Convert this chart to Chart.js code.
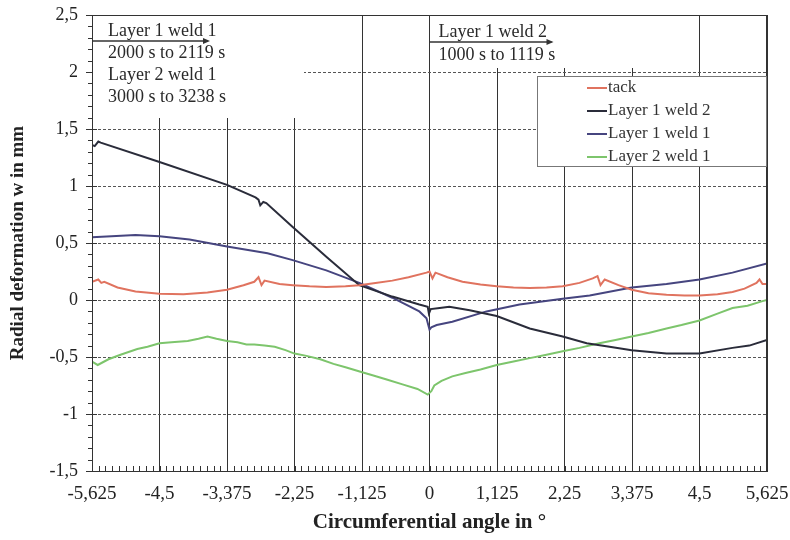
<!DOCTYPE html>
<html><head><meta charset="utf-8">
<script src="https://cdn.jsdelivr.net/npm/chart.js@4.4.1/dist/chart.umd.min.js"></script>
<style>html,body{margin:0;padding:0;background:#fff}#wrap{width:790px;height:540px}</style>
</head><body><div id="wrap"><canvas id="c" width="790" height="540"></canvas></div>
<script>
// ---- data ----
const seriesNames = ['tack', 'Layer 1 weld 2', 'Layer 1 weld 1', 'Layer 2 weld 1'];

const tackX = [-5.625,-5.52,-5.47,-5.42,-5.2,-4.9,-4.5,-4.1,-3.7,-3.375,-3.1,-2.92,-2.85,-2.80,-2.75,-2.5,-2.28,-2.0,-1.72,-1.4,-1.17,-0.9,-0.62,-0.35,-0.05,0,0.05,0.1,0.3,0.55,0.85,1.12,1.4,1.67,1.95,2.22,2.5,2.72,2.8,2.85,2.92,3.15,3.37,3.65,3.95,4.25,4.5,4.8,5.05,5.25,5.45,5.5,5.55,5.625];
const tackY = [0.16,0.18,0.15,0.16,0.11,0.075,0.055,0.05,0.065,0.09,0.13,0.16,0.20,0.13,0.17,0.14,0.13,0.12,0.115,0.12,0.13,0.15,0.17,0.20,0.24,0.25,0.19,0.24,0.20,0.16,0.135,0.12,0.11,0.105,0.11,0.12,0.15,0.19,0.21,0.13,0.18,0.13,0.09,0.06,0.045,0.04,0.04,0.05,0.07,0.10,0.15,0.18,0.14,0.14];

const l1w2X = [-5.625,-5.58,-5.52,-5.48,-4.5,-3.375,-2.9,-2.85,-2.82,-2.77,-2.72,-2.28,-1.72,-1.17,-0.62,-0.17,-0.03,-0.01,0.02,0.17,0.33,0.67,1.12,1.67,2.22,2.62,3.0,3.37,3.95,4.5,5.05,5.33,5.625];
const l1w2Y = [1.36,1.35,1.39,1.38,1.21,1.01,0.90,0.88,0.83,0.86,0.85,0.64,0.38,0.13,0.03,-0.04,-0.06,-0.12,-0.08,-0.07,-0.06,-0.09,-0.14,-0.25,-0.32,-0.38,-0.41,-0.44,-0.47,-0.47,-0.42,-0.40,-0.35];

const l1w1X = [-5.625,-5.3,-4.9,-4.5,-4.0,-3.375,-2.7,-2.28,-1.72,-1.17,-0.62,-0.17,-0.05,0,0.03,0.12,0.38,0.95,1.5,2.22,2.67,3.37,3.95,4.5,5.05,5.625];
const l1w1Y = [0.55,0.56,0.57,0.56,0.53,0.47,0.41,0.35,0.26,0.15,0.02,-0.10,-0.16,-0.26,-0.24,-0.22,-0.19,-0.10,-0.04,0.01,0.04,0.11,0.14,0.18,0.24,0.32];

const l2w1X = [-5.625,-5.53,-5.35,-5.15,-4.87,-4.7,-4.5,-4.3,-4.03,-3.85,-3.7,-3.55,-3.375,-3.2,-3.05,-2.92,-2.75,-2.58,-2.4,-2.25,-2.05,-1.82,-1.6,-1.4,-1.15,-0.95,-0.7,-0.45,-0.2,-0.03,0.03,0.08,0.2,0.38,0.6,0.85,1.12,1.4,1.67,1.95,2.22,2.5,2.83,3.1,3.37,3.65,3.95,4.2,4.5,4.8,5.05,5.3,5.55,5.625];
const l2w1Y = [-0.54,-0.57,-0.52,-0.48,-0.43,-0.41,-0.38,-0.37,-0.36,-0.34,-0.32,-0.34,-0.36,-0.37,-0.39,-0.39,-0.40,-0.41,-0.44,-0.47,-0.49,-0.52,-0.56,-0.59,-0.63,-0.66,-0.70,-0.74,-0.78,-0.83,-0.80,-0.75,-0.71,-0.67,-0.64,-0.61,-0.57,-0.54,-0.51,-0.48,-0.45,-0.42,-0.38,-0.35,-0.32,-0.29,-0.25,-0.22,-0.18,-0.12,-0.07,-0.05,-0.01,0.0];

const xTickMin = -5.625, xTickMax = 5.625, xTickStep = 1.125;
const yTickMin = -1.5, yTickMax = 2.5, yTickStep = 0.5;

const annotLeft = ['Layer 1 weld 1', '2000 s to 2119 s', 'Layer 2 weld 1', '3000 s to 3238 s'];
const annotRight = ['Layer 1 weld 2', '1000 s to 1119 s'];
const xTitle = 'Circumferential angle in °';
const yTitle = 'Radial deformation w in mm';

// ---- build ----
const SERIF = '"Liberation Serif", "Times New Roman", serif';
const colors = ['#e0735f', '#2a2c3a', '#46457f', '#7dc56c'];
const pairs = [[tackX,tackY],[l1w2X,l1w2Y],[l1w1X,l1w1Y],[l2w1X,l2w1Y]];
const datasets = pairs.map((p, i) => ({
  label: seriesNames[i],
  data: p[0].map((x, k) => ({x, y: p[1][k]})),
  showLine: true, borderColor: colors[i], backgroundColor: colors[i],
  borderWidth: 2, pointRadius: 0, tension: 0, fill: false
}));
const fmt = v => (Math.abs(v) < 1e-9 ? '0' : String(v).replace('.', ','));

const decor = {
  id: 'decor',
  afterDatasetsDraw(chart) {
    const {ctx, chartArea: a, scales: {x, y}} = chart;
    ctx.save();
    ctx.strokeStyle = '#333'; ctx.lineWidth = 1;
    // frame top/right/left
    ctx.beginPath();
    ctx.moveTo(a.left, a.top + 0.5); ctx.lineTo(a.right, a.top + 0.5);
    ctx.moveTo(a.right - 0.5, a.top); ctx.lineTo(a.right - 0.5, a.bottom);
    ctx.moveTo(a.left + 0.5, a.top); ctx.lineTo(a.left + 0.5, a.bottom);
    ctx.stroke();
    // minor ticks on y axis
    ctx.beginPath();
    for (let k = 0; k <= 40; k++) {
      const py = Math.round(y.getPixelForValue(yTickMin + k * 0.1)) + 0.5;
      const major = k % 5 === 0;
      ctx.moveTo(a.left - (major ? 6 : 4), py); ctx.lineTo(a.left + (major ? 5 : 0), py);
    }
    // minor ticks on x axis
    for (let k = 0; k <= 100; k++) {
      const px = Math.round(x.getPixelForValue(xTickMin + k * xTickStep / 10)) + 0.5;
      ctx.moveTo(px, a.bottom); ctx.lineTo(px, a.bottom - 5);
    }
    ctx.stroke();
    // white annotation boxes
    ctx.fillStyle = '#fff';
    ctx.fillRect(a.left + 1, a.top + 1, 211, 102);
    ctx.fillRect(x.getPixelForValue(0) + 1, a.top + 1, 230, 52);
    // annotation text
    ctx.fillStyle = '#2a2a2a';
    ctx.font = '18px ' + SERIF;
    ctx.textBaseline = 'middle'; ctx.textAlign = 'left';
    annotLeft.forEach((t, i) => ctx.fillText(t, a.left + 16, a.top + 16 + i * 22));
    annotRight.forEach((t, i) => ctx.fillText(t, x.getPixelForValue(0) + 9, a.top + 17 + i * 23));
    // arrows
    const arrow = (x0, x1, yy) => {
      ctx.beginPath(); ctx.moveTo(x0, yy); ctx.lineTo(x1, yy); ctx.stroke();
      ctx.beginPath(); ctx.moveTo(x1 + 2, yy); ctx.lineTo(x1 - 5, yy - 3); ctx.lineTo(x1 - 5, yy + 3); ctx.closePath(); ctx.fill();
    };
    ctx.strokeStyle = '#333'; ctx.fillStyle = '#333'; ctx.lineWidth = 1.5;
    arrow(a.left, a.left + 116, a.top + 26);
    arrow(x.getPixelForValue(0), x.getPixelForValue(0) + 122, a.top + 27);
    // legend box
    const lx = 537, ly = 76, lw = a.right - 537, lh = 91;
    ctx.fillStyle = '#fff';
    ctx.fillRect(lx, ly, lw, lh);
    ctx.strokeStyle = '#777'; ctx.lineWidth = 1;
    ctx.strokeRect(lx + 0.5, ly + 0.5, lw - 1, lh - 1);
    ctx.font = '17px ' + SERIF;
    chart.data.datasets.forEach((d, i) => {
      const yy = ly + 12 + i * 23;
      ctx.strokeStyle = d.borderColor; ctx.lineWidth = 2;
      ctx.beginPath(); ctx.moveTo(lx + 50, yy); ctx.lineTo(lx + 70, yy); ctx.stroke();
      ctx.fillStyle = '#333';
      ctx.fillText(d.label, lx + 71, yy);
    });
    ctx.restore();
  }
};

new Chart(document.getElementById('c'), {
  type: 'scatter',
  data: {datasets},
  options: {
    responsive: false, animation: false,
    layout: {padding: {left: 0, right: 23, top: 15, bottom: 0}},
    plugins: {legend: {display: false}, tooltip: {enabled: false}},
    scales: {
      x: {
        type: 'linear', min: xTickMin, max: xTickMax,
        ticks: {stepSize: xTickStep, callback: fmt, font: {family: SERIF, size: 19}, color: '#222', padding: 12, maxRotation: 0, autoSkip: false},
        grid: {color: '#333', lineWidth: 1, drawTicks: false},
        border: {display: true, color: '#333'},
        title: {display: true, text: xTitle, font: {family: SERIF, size: 21, weight: 'bold'}, color: '#222', padding: {top: 0, bottom: 5}},
        afterFit(s) { s.height = 69; s.paddingLeft = 0; s.paddingRight = 0; }
      },
      y: {
        type: 'linear', min: yTickMin, max: yTickMax,
        ticks: {stepSize: yTickStep, callback: fmt, font: {family: SERIF, size: 18}, color: '#222', padding: 14},
        grid: {color: '#555', lineWidth: 1, drawTicks: false},
        border: {display: true, color: '#333', dash: [3, 2]},
        title: {display: true, text: yTitle, font: {family: SERIF, size: 19, weight: 'bold'}, color: '#222', padding: {top: 7, bottom: 0}},
        afterFit(s) { s.width = 92; s.paddingTop = 0; s.paddingBottom = 0; }
      }
    }
  },
  plugins: [decor]
});
</script></body></html>
